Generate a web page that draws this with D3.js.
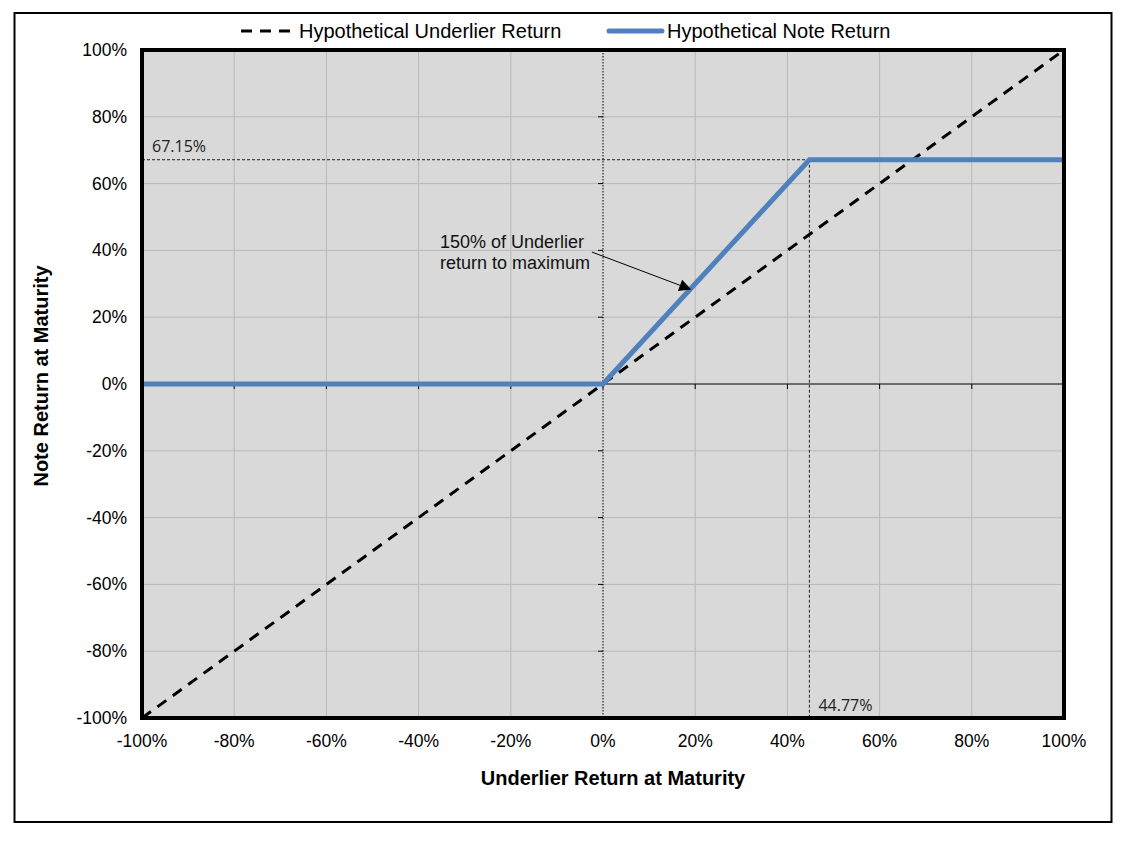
<!DOCTYPE html>
<html><head><meta charset="utf-8">
<script src="https://cdn.jsdelivr.net/npm/d3@7"></script>
<style>body{margin:0;background:#fff}svg{display:block}text{font-family:Arial,"Liberation Sans",sans-serif}</style>
</head><body>
<svg id="c" width="1125" height="841"></svg>
<script>
const xTicks = [-1, -0.8, -0.6, -0.4, -0.2, 0, 0.2, 0.4, 0.6, 0.8, 1];
const yTicks = [-1, -0.8, -0.6, -0.4, -0.2, 0, 0.2, 0.4, 0.6, 0.8, 1];
const underlierX = [-1, 1];
const underlierY = [-1, 1];
const noteX = [-1, 0, 0.4477, 1];
const noteY = [0, 0, 0.6715, 0.6715];
const capX = 0.4477, capY = 0.6715;
const seriesNames = ["Hypothetical Underlier Return", "Hypothetical Note Return"];
const annotation = ["150% of Underlier", "return to maximum"];
const arrowFrom = [-0.024, 0.395], arrowTo = [0.189, 0.284];

const svg = d3.select("#c");
const L = 142, R = 1064, T = 50, B = 718;
const x = d3.scaleLinear().domain([-1, 1]).range([L, R]);
const y = d3.scaleLinear().domain([-1, 1]).range([B, T]);
const pct = d => Math.round(d * 100) + "%";

// outer frame
svg.append("rect").attr("x", 14.5).attr("y", 13).attr("width", 1097).attr("height", 809)
  .attr("fill", "#fff").attr("stroke", "#000").attr("stroke-width", 2);

svg.append("defs").append("marker").attr("id", "ah").attr("viewBox", "0 0 10 10")
  .attr("refX", 9).attr("refY", 5).attr("markerWidth", 16).attr("markerHeight", 12)
  .attr("orient", "auto").attr("markerUnits", "userSpaceOnUse")
  .append("path").attr("d", "M0,0 L10,5 L0,10 z").attr("fill", "#000");

// plot background
svg.append("rect").attr("x", L).attr("y", T).attr("width", R - L).attr("height", B - T).attr("fill", "#d9d9d9");

// grid
const g = svg.append("g");
g.selectAll(".gx").data(xTicks.filter(d => d !== 0 && Math.abs(d) < 1)).join("line")
  .attr("x1", d => x(d)).attr("x2", d => x(d)).attr("y1", T).attr("y2", B)
  .attr("stroke", "#b9b9b9").attr("stroke-width", 1);
g.selectAll(".gy").data(yTicks.filter(d => d !== 0 && Math.abs(d) < 1)).join("line")
  .attr("y1", d => y(d)).attr("y2", d => y(d)).attr("x1", L).attr("x2", R)
  .attr("stroke", "#b9b9b9").attr("stroke-width", 1);

// zero axes
svg.append("line").attr("x1", L).attr("x2", R).attr("y1", y(0)).attr("y2", y(0))
  .attr("stroke", "#000").attr("stroke-width", 1);
svg.selectAll(".tx").data(xTicks).join("line")
  .attr("x1", d => x(d)).attr("x2", d => x(d)).attr("y1", y(0)).attr("y2", y(0) + 5)
  .attr("stroke", "#000").attr("stroke-width", 1);
svg.append("line").attr("x1", x(0)).attr("x2", x(0)).attr("y1", T).attr("y2", B)
  .attr("stroke", "#000").attr("stroke-width", 1).attr("stroke-dasharray", "1.5,1.5");
svg.selectAll(".ty").data(yTicks).join("line")
  .attr("x1", x(0) - 5).attr("x2", x(0)).attr("y1", d => y(d)).attr("y2", d => y(d))
  .attr("stroke", "#000").attr("stroke-width", 1);

// cap reference lines
svg.append("line").attr("x1", L).attr("x2", x(capX)).attr("y1", y(capY)).attr("y2", y(capY))
  .attr("stroke", "#222").attr("stroke-width", 1).attr("stroke-dasharray", "3,2");
svg.append("line").attr("x1", x(capX)).attr("x2", x(capX)).attr("y1", y(capY)).attr("y2", B)
  .attr("stroke", "#222").attr("stroke-width", 1).attr("stroke-dasharray", "3,2");
svg.append("text").attr("x", L + 10).attr("y", y(capY) - 8).attr("font-size", 16)
  .style("font-family", "'Open Sans',sans-serif").attr("fill", "#222").text((capY * 100).toFixed(2) + "%");
svg.append("text").attr("x", x(capX) + 9).attr("y", B - 7).attr("font-size", 16)
  .style("font-family", "'Open Sans',sans-serif").attr("fill", "#222").text((capX * 100).toFixed(2) + "%");

// series
const line = d3.line().x(d => x(d[0])).y(d => y(d[1]));
svg.append("path").datum(d3.zip(underlierX, underlierY)).attr("d", line)
  .attr("fill", "none").attr("stroke", "#000").attr("stroke-width", 3).attr("stroke-dasharray", "11,8");
svg.append("path").datum(d3.zip(noteX, noteY)).attr("d", line)
  .attr("fill", "none").attr("stroke", "#4f81bd").attr("stroke-width", 5).attr("stroke-linejoin", "miter");

// plot border
svg.append("rect").attr("x", L).attr("y", T).attr("width", R - L).attr("height", B - T)
  .attr("fill", "none").attr("stroke", "#000").attr("stroke-width", 4);

// annotation
const at = svg.append("text").attr("font-size", 18).attr("fill", "#111");
annotation.forEach((s, i) => at.append("tspan").attr("x", 440).attr("y", 248 + i * 21).text(s));
svg.append("line").attr("x1", x(arrowFrom[0])).attr("y1", y(arrowFrom[1]))
  .attr("x2", x(arrowTo[0])).attr("y2", y(arrowTo[1]))
  .attr("stroke", "#000").attr("stroke-width", 1).attr("marker-end", "url(#ah)");

// tick labels
svg.selectAll(".xl").data(xTicks).join("text")
  .attr("x", d => x(d)).attr("y", 747).attr("text-anchor", "middle").attr("font-size", 17.5).text(pct);
svg.selectAll(".yl").data(yTicks).join("text")
  .attr("x", 127).attr("y", d => y(d) + 6).attr("text-anchor", "end").attr("font-size", 17.5).text(pct);

// axis titles
svg.append("text").attr("x", 613).attr("y", 785).attr("text-anchor", "middle")
  .attr("font-size", 20).attr("font-weight", "bold").text("Underlier Return at Maturity");
svg.append("text").attr("transform", `translate(48,${y(0) - 8}) rotate(-90)`).attr("text-anchor", "middle")
  .attr("font-size", 20).attr("font-weight", "bold").text("Note Return at Maturity");

// legend
const lg = svg.append("g");
lg.append("line").attr("x1", 241).attr("x2", 296).attr("y1", 31).attr("y2", 31)
  .attr("stroke", "#000").attr("stroke-width", 3).attr("stroke-dasharray", "11,8");
lg.append("text").attr("x", 299).attr("y", 38).attr("font-size", 20).text(seriesNames[0]);
lg.append("line").attr("x1", 609).attr("x2", 662).attr("y1", 31).attr("y2", 31)
  .attr("stroke", "#4f81bd").attr("stroke-width", 5).attr("stroke-linecap", "round");
lg.append("text").attr("x", 667).attr("y", 38).attr("font-size", 20).text(seriesNames[1]);
</script>
</body></html>
